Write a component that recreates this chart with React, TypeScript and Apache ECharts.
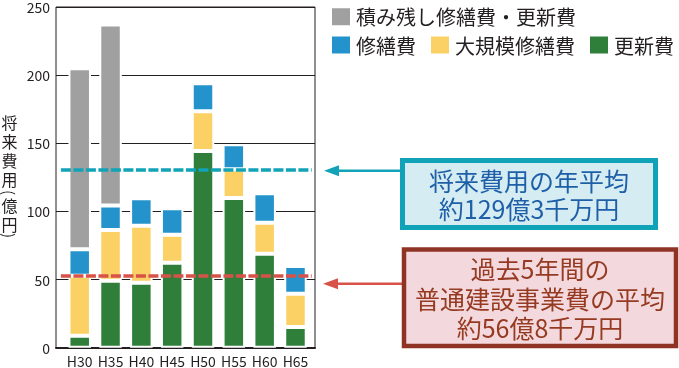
import React, { useEffect, useRef } from 'react';
import * as echarts from 'echarts';

const categories = ['H30', 'H35', 'H40', 'H45', 'H50', 'H55', 'H60', 'H65'];
const renewal = [8.8, 49.0, 47.5, 62.1, 144.0, 109.6, 68.7, 15.1];
const majorRepair = [43.8, 37.1, 41.7, 20.5, 29.0, 20.9, 22.7, 24.4];
const repair = [19.5, 17.9, 20.1, 19.4, 20.4, 18.3, 21.6, 20.2];
const backlog = [132.3, 132.5, null, null, null, null, null, null];

const seriesNames = ['積み残し修繕費・更新費', '修繕費', '大規模修繕費', '更新費'];
const seriesColors = ['#a0a0a0', '#2493cb', '#fbd165', '#2f7f3a'];

const yMin = 0;
const yMax = 250;
const yInterval = 50;

// reference lines as drawn in the picture
const futureAvgLine = 130.5;
const pastAvgLine = 52.6;

const yTitleA = '将\n来\n費\n用';
const yTitleB = '億\n円';
const futureText = '将来費用の年平均\n約129億3千万円';
const pastText = '過去5年間の\n普通建設事業費の平均\n約56億8千万円';

const FONT = '"Noto Sans CJK JP", "Noto Sans", sans-serif';
const TEXT = '#231f20';
const CYAN = '#12a3b8';
const RED = '#d8524a';

export default function App() {
  const ref = useRef<HTMLDivElement>(null);
  useEffect(() => {
    if (!ref.current) return;
    const chart = echarts.init(ref.current, undefined, { renderer: 'svg' });
    const barStyle = (i: number) => ({
      color: seriesColors[i],
      borderColor: '#ffffff',
      borderWidth: 2,
    });
    const titleStyle = (text: string) => ({
      text, align: 'center', verticalAlign: 'top', fill: TEXT,
      fontSize: 16, lineHeight: 19, fontFamily: FONT,
    });
    const parenStyle = (text: string) => ({
      text, align: 'center', verticalAlign: 'middle', fill: TEXT,
      fontSize: 15, fontFamily: FONT,
    });
    const option: any = {
      animation: false,
      textStyle: { fontFamily: FONT },
      grid: [
        { left: 56, right: 364, top: 6, bottom: 20.3, show: true, borderColor: TEXT, borderWidth: 1, backgroundColor: 'transparent' },
        { left: 64.3, right: 368.1, top: 6, bottom: 20.3 },
      ],
      xAxis: [
        {
          type: 'value', gridIndex: 0, min: 0, max: 1,
          axisLine: { show: true, lineStyle: { color: TEXT, width: 2 } },
          axisTick: { show: false }, axisLabel: { show: false }, splitLine: { show: false },
        },
        {
          type: 'category', gridIndex: 1, data: categories,
          axisLine: { show: false }, axisTick: { show: false },
          axisLabel: { interval: 0, fontSize: 14, color: TEXT, margin: 6, fontFamily: FONT },
        },
      ],
      yAxis: [
        {
          type: 'value', gridIndex: 0, min: yMin, max: yMax, interval: yInterval,
          axisLine: { show: false }, axisTick: { show: false },
          axisLabel: { fontSize: 14, color: TEXT, margin: 6, fontFamily: FONT },
          splitLine: { show: true, lineStyle: { color: TEXT, width: 1 } },
        },
        { type: 'value', gridIndex: 1, min: yMin, max: yMax, show: false, splitLine: { show: false } },
      ],
      legend: [
        {
          data: [seriesNames[0]], left: 330, top: 6.3, padding: 0, icon: 'rect',
          itemWidth: 20, itemHeight: 19, selectedMode: false,
          textStyle: { fontSize: 20, color: TEXT, fontFamily: FONT },
        },
        {
          data: [seriesNames[1], seriesNames[2], seriesNames[3]], left: 330, top: 34.5, padding: 0, icon: 'rect',
          itemWidth: 20, itemHeight: 19, itemGap: 13, selectedMode: false,
          textStyle: { fontSize: 20, color: TEXT, fontFamily: FONT },
        },
      ],
      series: [
        { name: seriesNames[3], type: 'bar', xAxisIndex: 1, yAxisIndex: 1, stack: 'cost', barWidth: 22.5, data: renewal, itemStyle: barStyle(3) },
        { name: seriesNames[2], type: 'bar', xAxisIndex: 1, yAxisIndex: 1, stack: 'cost', barWidth: 22.5, data: majorRepair, itemStyle: barStyle(2) },
        { name: seriesNames[1], type: 'bar', xAxisIndex: 1, yAxisIndex: 1, stack: 'cost', barWidth: 22.5, data: repair, itemStyle: barStyle(1) },
        { name: seriesNames[0], type: 'bar', xAxisIndex: 1, yAxisIndex: 1, stack: 'cost', barWidth: 22.5, data: backlog, itemStyle: barStyle(0) },
        {
          name: 'refLines', type: 'line', xAxisIndex: 0, yAxisIndex: 0, data: [], z: 10, silent: true,
          markLine: {
            silent: true, symbol: ['none', 'none'], label: { show: false }, animation: false,
            data: [
              [
                { coord: [0.019, futureAvgLine], lineStyle: { color: CYAN, width: 3.6, type: [10, 2.5] } },
                { coord: [0.987, futureAvgLine] },
              ],
              [
                { coord: [0.019, pastAvgLine], lineStyle: { color: RED, width: 3.6, type: [10, 2.5] } },
                { coord: [0.987, pastAvgLine] },
              ],
            ],
          },
        },
      ],
      graphic: [
        { type: 'text', x: 9.5, y: 112.5, style: titleStyle(yTitleA) },
        { type: 'text', x: 9.5, y: 192.5, rotation: -Math.PI / 2, style: parenStyle('(') },
        { type: 'text', x: 9.5, y: 195, style: titleStyle(yTitleB) },
        { type: 'text', x: 9.5, y: 235.5, rotation: -Math.PI / 2, style: parenStyle(')') },
        { type: 'line', shape: { x1: 334, y1: 170.7, x2: 403, y2: 170.7 }, style: { stroke: CYAN, lineWidth: 2.6 } },
        { type: 'polygon', shape: { points: [[324, 170.7], [339, 165.2], [339, 176.2]] }, style: { fill: CYAN } },
        { type: 'line', shape: { x1: 333, y1: 283.7, x2: 404, y2: 283.7 }, style: { stroke: RED, lineWidth: 2.6 } },
        { type: 'polygon', shape: { points: [[323, 283.7], [338, 278.2], [338, 289.2]] }, style: { fill: RED } },
        { type: 'rect', shape: { x: 402.5, y: 160.5, width: 253, height: 67 }, style: { fill: '#d4ecf2', stroke: '#10a3b8', lineWidth: 5 } },
        { type: 'rect', shape: { x: 404, y: 249.5, width: 272, height: 96.5 }, style: { fill: '#f3d9dd', stroke: '#8f3424', lineWidth: 4.5 } },
        {
          type: 'text', x: 529, y: 194.2,
          style: { text: futureText, align: 'center', verticalAlign: 'middle', fontSize: 25, lineHeight: 28.5, fontFamily: FONT, fill: '#1e5fa8' },
        },
        {
          type: 'text', x: 540, y: 297.5,
          style: { text: pastText, align: 'center', verticalAlign: 'middle', fontSize: 25, lineHeight: 29.2, fontFamily: FONT, fill: '#963a22' },
        },
      ],
    };
    chart.setOption(option);
    return () => chart.dispose();
  }, []);
  return <div ref={ref} style={{ position: 'fixed', left: 0, top: 0, width: 679, height: 368 }} />;
}
